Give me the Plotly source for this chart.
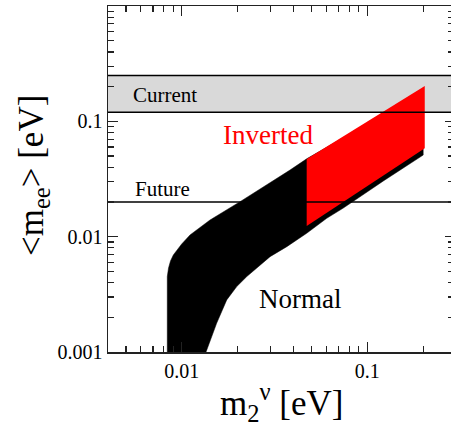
import math
import plotly.graph_objects as go

# ---------------- data ----------------
x_span = [0.004, 0.3]                 # horizontal extent used for the reference lines
current_band = [0.12, 0.25]           # "Current" bound band on <m_ee> (eV)
future_bound = 0.02                   # "Future" sensitivity (eV)

# Normal ordering allowed region (outline: upper edge left->right, lower edge right->left)
normal_x = [0.00835, 0.00835, 0.00848, 0.00869, 0.0090, 0.00999, 0.01107, 0.01419,
            0.0206, 0.0287, 0.0383, 0.0471, 0.200, 0.200,
            0.122, 0.0742, 0.0604, 0.0471, 0.0368, 0.0299, 0.0264, 0.0224,
            0.01977, 0.01746, 0.01542, 0.01318]
normal_y = [0.0009, 0.00451, 0.00536, 0.00616, 0.00694, 0.00865, 0.01034, 0.01395,
            0.0201, 0.0280, 0.0378, 0.0473, 0.180, 0.0510,
            0.0304, 0.0177, 0.01443, 0.0107, 0.00819, 0.00671, 0.00569, 0.00451,
            0.00369, 0.00283, 0.00178, 0.0009]

# Inverted ordering allowed region
inverted_x = [0.0471, 0.204, 0.204, 0.0471]
inverted_y = [0.0471, 0.202, 0.0583, 0.0124]

# tick labels
x_ticks = [0.01, 0.1]
x_ticktext = ["0.01", "0.1"]
y_ticks = [0.001, 0.01, 0.1, 1]
y_ticktext = ["0.001", "0.01", "0.1", "1"]

FONT = "Liberation Serif"

x_minor = [m * 10.0 ** e for e in (-3, -2, -1) for m in range(2, 10)]
y_minor = [m * 10.0 ** e for e in (-3, -2, -1) for m in range(2, 10)]

fig = go.Figure()

# current band (grey)
fig.add_trace(go.Scatter(
    x=[x_span[0], x_span[1], x_span[1], x_span[0]],
    y=[current_band[0], current_band[0], current_band[1], current_band[1]],
    fill="toself", fillcolor="#d9d9d9", line=dict(width=0),
    mode="lines", hoverinfo="skip", showlegend=False))

# normal region (black)
fig.add_trace(go.Scatter(
    x=normal_x, y=normal_y, fill="toself", fillcolor="black",
    line=dict(color="black", width=0.5), mode="lines",
    hoverinfo="skip", showlegend=False))

# inverted region (red)
fig.add_trace(go.Scatter(
    x=inverted_x, y=inverted_y, fill="toself", fillcolor="#ff0000",
    line=dict(width=0), mode="lines",
    hoverinfo="skip", showlegend=False))

# horizontal bound lines
for yv in (current_band[0], current_band[1], future_bound):
    fig.add_trace(go.Scatter(
        x=x_span, y=[yv, yv], mode="lines",
        line=dict(color="black", width=1.6),
        hoverinfo="skip", showlegend=False))

# invisible trace for the right-hand tick axis
fig.add_trace(go.Scatter(x=[0.01], y=[0.01], yaxis="y2", mode="markers",
                         marker=dict(opacity=0), hoverinfo="skip", showlegend=False))

tickfont = dict(family=FONT, size=20, color="black")

fig.update_layout(
    width=451, height=430,
    margin=dict(l=108, r=0, t=6, b=78),
    paper_bgcolor="white", plot_bgcolor="white",
    xaxis=dict(type="log", range=[math.log10(0.004), -0.549],
               tickmode="array", tickvals=x_ticks, ticktext=x_ticktext,
               ticks="inside", ticklen=10, tickwidth=1.2, tickcolor="#222",
               minor=dict(tickmode="array", tickvals=x_minor, ticks="inside",
                          ticklen=6, tickwidth=1.2, tickcolor="#222", showgrid=False),
               showline=True, linecolor="#222", linewidth=1.5, mirror="ticks",
               showgrid=False, zeroline=False, tickfont=tickfont, automargin=False),
    yaxis=dict(type="log", range=[-3, 0],
               tickmode="array", tickvals=y_ticks, ticktext=y_ticktext,
               ticks="inside", ticklen=10, tickwidth=1.2, tickcolor="#222",
               minor=dict(tickmode="array", tickvals=y_minor, ticks="inside",
                          ticklen=6, tickwidth=1.2, tickcolor="#222", showgrid=False),
               showline=True, linecolor="#222", linewidth=1.5, mirror=False,
               showgrid=False, zeroline=False, tickfont=tickfont, automargin=False),
    yaxis2=dict(type="log", range=[-3, 0], overlaying="y", side="right", anchor="x",
                tickmode="array", tickvals=y_ticks, showticklabels=False,
                ticks="inside", ticklen=6, tickwidth=1.2, tickcolor="#222",
                minor=dict(tickmode="array", tickvals=y_minor, ticks="inside",
                           ticklen=3, tickwidth=1.2, tickcolor="#222", showgrid=False),
                showline=False, showgrid=False, zeroline=False, automargin=False),
    showlegend=False,
)

def ann(text, x, y, size, color="black"):
    fig.add_annotation(text=text, x=x, y=y, xref="x", yref="y", showarrow=False,
                       xanchor="center", yanchor="middle",
                       font=dict(family=FONT, size=size, color=color))

ann("Current", -2.0906, -0.769, 21)
ann("Inverted", -1.5353, -1.115, 27, color="#ff0000")
ann("Future", -2.1067, -1.589, 21)
ann("Normal", -1.3644, -2.539, 27)

# axis titles
fig.add_annotation(text="m<sub>2</sub><sup>ν</sup> [eV]", xref="paper", yref="paper",
                   x=(281 - 108) / 343, y=1 - (402 - 6) / 346,
                   xanchor="center", yanchor="middle", showarrow=False,
                   font=dict(family=FONT, size=35, color="black"))
fig.add_annotation(text="&lt;m<sub>ee</sub>&gt; [eV]", xref="paper", yref="paper",
                   x=(33 - 108) / 343, y=1 - (176 - 6) / 346, textangle=-90,
                   xanchor="center", yanchor="middle", showarrow=False,
                   font=dict(family=FONT, size=35, color="black"))

fig.write_html("out.html",
               config={"displayModeBar": False, "staticPlot": True},
               post_script="document.body.style.margin='0';document.body.style.overflow='hidden';")
